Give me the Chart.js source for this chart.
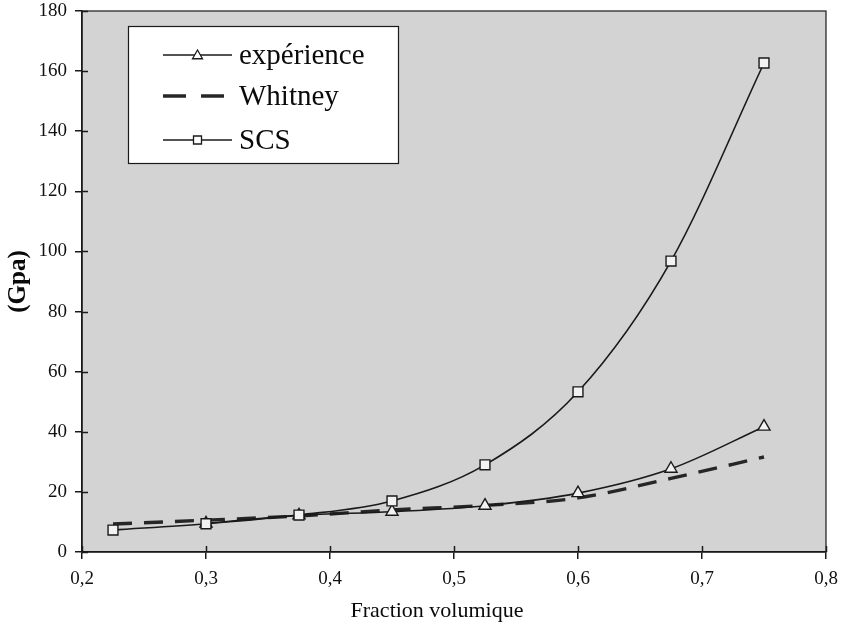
<!DOCTYPE html>
<html>
<head>
<meta charset="utf-8">
<script src="https://cdn.jsdelivr.net/npm/chart.js@4/dist/chart.umd.min.js"></script>
<style>
  html, body { margin: 0; padding: 0; background: #ffffff; }
  #wrap { width: 841px; height: 632px; }
</style>
</head>
<body>
<div id="wrap"><canvas id="c" width="841" height="632"></canvas></div>
<script>
const fractions = [0.225, 0.3, 0.375, 0.45, 0.525, 0.6, 0.675, 0.75];
const experience = [null, 9.5, 12.2, 13.4, 15.4, 19.6, 27.7, 41.7];
const whitney = [9.3, 10.6, 12.0, 14.0, 15.5, 18.0, 24.5, 31.6];
const scs = [7.3, 9.4, 12.3, 17.0, 29.0, 53.3, 96.8, 162.7];
const seriesNames = ['expérience', 'Whitney', 'SCS'];
const yTicks = [0, 20, 40, 60, 80, 100, 120, 140, 160, 180];
const xTicks = [0.2, 0.3, 0.4, 0.5, 0.6, 0.7, 0.8];
const xTitle = 'Fraction volumique';
const yTitle = '(Gpa)';

const FONT = "'Liberation Serif', 'Times New Roman', serif";
const INK = '#1a1a1a';

function pts(vals) {
  return fractions.map((x, i) => ({ x: x, y: vals[i] }));
}

const bgPlugin = {
  id: 'plotBg',
  beforeDraw(chart) {
    const { ctx, chartArea: a } = chart;
    ctx.save();
    ctx.fillStyle = '#d3d3d3';
    ctx.fillRect(a.left, a.top, a.right - a.left, a.bottom - a.top);
    ctx.restore();
  },
  afterDraw(chart) {
    const { ctx, chartArea: a } = chart;
    ctx.save();
    ctx.strokeStyle = INK;
    ctx.lineWidth = 1.2;
    ctx.strokeRect(a.left, a.top, a.right - a.left, a.bottom - a.top);
    const xs = chart.scales.x, ys = chart.scales.y;
    ctx.lineWidth = 1.5;
    ctx.beginPath();
    xTicks.forEach(v => {
      const px = Math.round(xs.getPixelForValue(v)) + 0.5;
      ctx.moveTo(px, a.bottom); ctx.lineTo(px, a.bottom - 6);
    });
    yTicks.forEach(v => {
      const py = Math.round(ys.getPixelForValue(v)) + 0.5;
      ctx.moveTo(a.left, py); ctx.lineTo(a.left + 6, py);
    });
    ctx.stroke();

    // x axis title (slightly left of plot centre, as in the original)
    ctx.fillStyle = '#0a0a0a';
    ctx.font = '22px ' + FONT;
    ctx.textAlign = 'center';
    ctx.textBaseline = 'middle';
    ctx.fillText(xTitle, 437, 611);

    const bx = 128, by = 26, bw = 270, bh = 137;
    ctx.fillStyle = '#ffffff';
    ctx.fillRect(bx, by, bw, bh);
    ctx.strokeStyle = INK;
    ctx.lineWidth = 1.2;
    ctx.strokeRect(bx + 0.5, by + 0.5, bw, bh);
    const rowsY = [55, 96, 140];
    const lx0 = 163, lx1 = 232;
    ctx.font = '29px ' + FONT;
    ctx.textBaseline = 'middle';
    ctx.textAlign = 'left';
    chart.data.datasets.forEach((ds, i) => {
      const y = rowsY[i];
      ctx.save();
      ctx.strokeStyle = ds.borderColor;
      ctx.lineWidth = ds.borderWidth;
      ctx.setLineDash([]);
      if (ds.borderDash && ds.borderDash.length) {
        ctx.beginPath();
        ctx.moveTo(lx0, y); ctx.lineTo(lx0 + 23, y);
        ctx.moveTo(lx0 + 38, y); ctx.lineTo(lx0 + 61, y);
        ctx.stroke();
      } else {
        ctx.beginPath();
        ctx.moveTo(lx0, y); ctx.lineTo(lx1, y);
        ctx.stroke();
        const cx = (lx0 + lx1) / 2;
        ctx.fillStyle = '#ffffff';
        ctx.lineWidth = 1.3;
        ctx.beginPath();
        if (ds.pointStyle === 'triangle') {
          const r = 5;
          ctx.moveTo(cx, y - r);
          ctx.lineTo(cx + r, y + r * 0.75);
          ctx.lineTo(cx - r, y + r * 0.75);
          ctx.closePath();
        } else {
          ctx.rect(cx - 4, y - 4, 8, 8);
        }
        ctx.fill();
        ctx.stroke();
      }
      ctx.restore();
      ctx.fillStyle = '#0a0a0a';
      ctx.fillText(seriesNames[i], 239, y + 1);
    });
    ctx.restore();
  }
};

new Chart(document.getElementById('c'), {
  type: 'line',
  data: {
    datasets: [
      {
        label: seriesNames[0],
        data: pts(experience),
        borderColor: INK,
        borderWidth: 1.6,
        pointStyle: 'triangle',
        pointRadius: 7,
        pointBorderWidth: 1.4,
        pointBackgroundColor: '#f2f2f2',
        pointBorderColor: INK,
        cubicInterpolationMode: 'monotone',
        spanGaps: false,
        order: 1
      },
      {
        label: seriesNames[1],
        data: pts(whitney),
        borderColor: '#262626',
        borderWidth: 3.4,
        borderDash: [19, 12],
        pointRadius: 0,
        cubicInterpolationMode: 'monotone',
        order: 2
      },
      {
        label: seriesNames[2],
        data: pts(scs),
        borderColor: INK,
        borderWidth: 1.6,
        pointStyle: 'rect',
        pointRadius: 7,
        pointBorderWidth: 1.4,
        pointBackgroundColor: '#f2f2f2',
        pointBorderColor: INK,
        cubicInterpolationMode: 'monotone',
        order: 0
      }
    ]
  },
  options: {
    responsive: false,
    animation: false,
    devicePixelRatio: 1,
    layout: { padding: { top: 11, right: 15, bottom: 0, left: 0 } },
    plugins: {
      legend: { display: false },
      tooltip: { enabled: false }
    },
    scales: {
      x: {
        type: 'linear',
        min: 0.2, max: 0.8,
        afterBuildTicks(scale) { scale.ticks = xTicks.map(v => ({ value: v })); },
        afterFit(scale) { scale.height = 80; scale.paddingRight = 0; scale.paddingLeft = 0; },
        border: { display: true, color: INK, width: 1.5 },
        grid: { drawOnChartArea: false, drawTicks: true, tickLength: 7, color: INK, lineWidth: 1.5 },
        ticks: {
          color: '#111111',
          font: { family: FONT, size: 19 },
          padding: 9,
          maxRotation: 0,
          callback: v => v.toFixed(1).replace('.', ',')
        },
        title: { display: false }
      },
      y: {
        type: 'linear',
        min: 0, max: 180,
        afterBuildTicks(scale) { scale.ticks = yTicks.map(v => ({ value: v })); },
        afterFit(scale) { scale.width = 82; scale.paddingTop = 0; scale.paddingBottom = 0; },
        border: { display: true, color: INK, width: 1.5 },
        grid: { drawOnChartArea: false, drawTicks: true, tickLength: 7, color: INK, lineWidth: 1.5 },
        ticks: {
          color: '#111111',
          font: { family: FONT, size: 19 },
          padding: 8
        },
        title: {
          display: true,
          text: yTitle,
          color: '#0a0a0a',
          font: { family: FONT, size: 25, weight: 'bold' },
          padding: { top: 4, bottom: 0 }
        }
      }
    }
  },
  plugins: [bgPlugin]
});
</script>
</body>
</html>
